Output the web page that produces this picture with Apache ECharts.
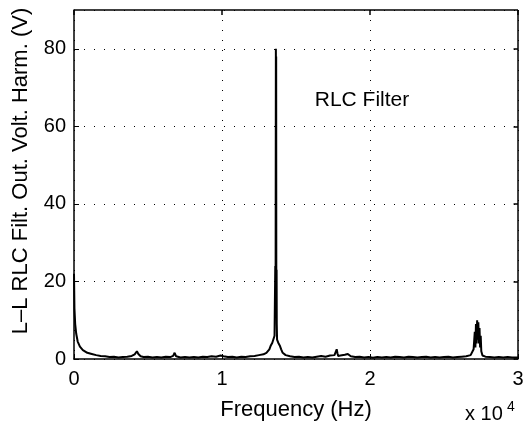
<!DOCTYPE html>
<html>
<head>
<meta charset="utf-8">
<script src="https://cdn.jsdelivr.net/npm/echarts@6/dist/echarts.min.js"></script>
<style>html,body{margin:0;padding:0;background:#fff}#c{width:527px;height:435px}</style>
</head>
<body>
<div id="c"></div>
<script>
// Frequency (Hz)
const freq = [
  0, 30, 80, 150, 250, 400, 600, 900, 1200, 1500,
  1800, 2100, 2400, 2700, 3000, 3300, 3600, 3900, 4100, 4250,
  4350, 4500, 4700, 5000, 5300, 5600, 5900, 6200, 6500, 6700,
  6800, 6900, 7200, 7500, 7800, 8100, 8400, 8700, 9000, 9300,
  9600, 9900, 10100, 10400, 10700, 11000, 11300, 11600, 11900, 12200,
  12500, 12800, 13000, 13200, 13300, 13400, 13500, 13550, 13600, 13620,
  13640, 13650, 13660, 13670, 13690, 13700, 13720, 13750, 13800, 13900,
  14000, 14100, 14300, 14600, 14900, 15200, 15500, 15800, 16100, 16400,
  16700, 17000, 17300, 17600, 17750, 17800, 17850, 18000, 18300, 18500,
  18700, 19000, 19300, 19600, 19900, 20200, 20500, 20800, 21100, 21400,
  21700, 22000, 22300, 22600, 22900, 23200, 23500, 23800, 24100, 24400,
  24700, 25000, 25300, 25600, 25900, 26200, 26500, 26800, 27000, 27080,
  27120, 27160, 27200, 27240, 27280, 27320, 27360, 27400, 27440, 27480,
  27520, 27600, 27800, 28100, 28400, 28700, 29000, 29300, 29600, 30000
];
// Harmonic amplitude (V)
const amp = [
  22, 13, 9, 6.5, 4.5, 3.2, 2.3, 1.6, 1.3, 1.0,
  0.8, 0.7, 0.5, 0.6, 0.4, 0.5, 0.6, 0.8, 1.2, 2.0,
  1.3, 0.7, 0.5, 0.6, 0.4, 0.5, 0.4, 0.6, 0.5, 0.8,
  1.6, 0.7, 0.4, 0.5, 0.4, 0.5, 0.4, 0.6, 0.5, 0.7,
  0.6, 0.9, 0.7, 0.5, 0.6, 0.4, 0.6, 0.5, 0.7, 0.8,
  1.0, 1.2, 1.6, 2.5, 3.5, 4.2, 4.5, 6, 24, 12,
  80, 40, 78, 20, 23, 9, 5, 4.5, 4.2, 3.5,
  2.5, 1.6, 1.0, 0.7, 0.5, 0.6, 0.4, 0.5, 0.4, 0.6,
  0.8, 0.6, 0.9, 1.0, 2.5, 1.5, 0.8, 0.9, 1.1, 1.3,
  0.7, 0.5, 0.6, 0.4, 0.5, 0.3, 0.5, 0.4, 0.5, 0.4,
  0.6, 0.5, 0.4, 0.6, 0.5, 0.4, 0.5, 0.6, 0.4, 0.5,
  0.4, 0.5, 0.6, 0.4, 0.5, 0.6, 0.7, 1.0, 2.5, 7,
  3, 9, 4, 10, 5, 9.5, 4, 8, 3, 6,
  2, 0.9, 0.6, 0.5, 0.4, 0.5, 0.4, 0.5, 0.4, 0.4
];
const xTicks = [0, 10000, 20000, 30000];
const yTicks = [0, 20, 40, 60, 80];
const yMax = 90;
const xLabel = 'Frequency (Hz)';
const yLabel = 'L\u2013L RLC Filt. Out. Volt. Harm. (V)';
const annotation = 'RLC Filter';

const font = '"Liberation Sans", Arial, Helvetica, sans-serif';
const chart = echarts.init(document.getElementById('c'));
const xMin = xTicks[0], xMax = xTicks[xTicks.length - 1];
const tickLenX = 300;   // inward tick length in Hz (top side)
const tickLenY = 1.3;   // inward tick length in V (right side)

// Frame top/right sides and mirrored inward ticks, as markLines in data coordinates
const frameLines = [
  [{ coord: [xMin, yMax] }, { coord: [xMax, yMax] }],
  [{ coord: [xMax, 0] }, { coord: [xMax, yMax] }]
];
xTicks.forEach(t => frameLines.push([{ coord: [t, yMax] }, { coord: [t, yMax - tickLenY] }]));
yTicks.forEach(t => frameLines.push([{ coord: [xMax, t] }, { coord: [xMax - tickLenX, t] }]));

chart.setOption({
  animation: false,
  backgroundColor: '#fff',
  grid: { left: 74, right: 9, top: 10, bottom: 76 },
  xAxis: { type: 'value', min: xMin, max: xMax, interval: 10000,
    axisLine: { show: true, onZero: false, lineStyle: { color: '#000', width: 1.5 } },
    axisTick: { show: true, inside: true, length: 5, lineStyle: { color: '#000', width: 1 } },
    splitLine: { show: true, lineStyle: { color: '#000', width: 1, type: [1, 9] } },
    axisLabel: { color: '#000', fontFamily: font, fontSize: 20, margin: 10,
      formatter: v => String(v / 10000) } },
  yAxis: { type: 'value', min: 0, max: yMax, interval: 20,
    axisLine: { show: true, onZero: false, lineStyle: { color: '#000', width: 1.5 } },
    axisTick: { show: true, inside: true, length: 5, lineStyle: { color: '#000', width: 1 } },
    splitLine: { show: true, lineStyle: { color: '#000', width: 1, type: [1, 9] } },
    axisLabel: { color: '#000', fontFamily: font, fontSize: 20, margin: 8, showMaxLabel: false,
      formatter: v => (yTicks.indexOf(v) >= 0 ? String(v) : '') } },
  series: [{
    type: 'line', symbol: 'none', clip: false,
    lineStyle: { color: '#000', width: 2 },
    data: freq.map((f, i) => [f, amp[i]]),
    markLine: {
      silent: true, symbol: ['none', 'none'], animation: false,
      label: { show: false },
      lineStyle: { color: '#000', width: 1.5, type: 'solid' },
      data: frameLines
    }
  }],
  graphic: [
    { type: 'text', x: 21, y: 171, rotation: Math.PI / 2,
      style: { text: yLabel, font: '22px ' + font, fill: '#000', align: 'center', verticalAlign: 'middle' } },
    { type: 'text', x: 296, y: 410,
      style: { text: xLabel, font: '22px ' + font, fill: '#000', align: 'center', verticalAlign: 'middle' } },
    { type: 'text', x: 362, y: 100,
      style: { text: annotation, font: '21px ' + font, fill: '#000', align: 'center', verticalAlign: 'middle' } },
    { type: 'text', x: 465, y: 424,
      style: { text: 'x 10', font: '20px ' + font, fill: '#000', align: 'left', verticalAlign: 'bottom' } },
    { type: 'text', x: 507, y: 414,
      style: { text: '4', font: '14px ' + font, fill: '#000', align: 'left', verticalAlign: 'bottom' } }
  ]
});
</script>
</body>
</html>
